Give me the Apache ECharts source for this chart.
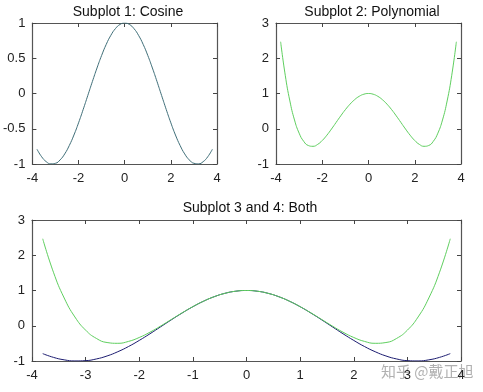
<!DOCTYPE html>
<html><head><meta charset="utf-8">
<script src="https://cdn.jsdelivr.net/npm/echarts@6/dist/echarts.min.js"></script>
<style>html,body{margin:0;padding:0;background:#fff}#c{width:483px;height:392px}</style>
</head><body><div id="c"></div>
<script>
const xs = [-3.8,-3.6,-3.4,-3.2,-3.0,-2.8,-2.6,-2.4,-2.2,-2.0,-1.8,-1.6,-1.4,-1.2,-1.0,-0.8,-0.6,-0.4,-0.2,0,
  0.2,0.4,0.6,0.8,1.0,1.2,1.4,1.6,1.8,2.0,2.2,2.4,2.6,2.8,3.0,3.2,3.4,3.6,3.8];
const cosVals = [-0.791,-0.897,-0.967,-0.998,-0.990,-0.942,-0.857,-0.737,-0.589,-0.416,-0.227,-0.029,0.170,0.362,0.540,0.697,0.825,0.921,0.980,1,
  0.980,0.921,0.825,0.697,0.540,0.362,0.170,-0.029,-0.227,-0.416,-0.589,-0.737,-0.857,-0.942,-0.990,-0.998,-0.967,-0.897,-0.791];
const polyVals = [2.468,1.518,0.788,0.249,-0.125,-0.359,-0.476,-0.498,-0.444,-0.333,-0.183,-0.007,0.180,0.366,0.542,0.697,0.825,0.921,0.980,1,
  0.980,0.921,0.825,0.697,0.542,0.366,0.180,-0.007,-0.183,-0.333,-0.444,-0.498,-0.476,-0.359,-0.125,0.249,0.788,1.518,2.468];
const titles = ['Subplot 1: Cosine','Subplot 2: Polynomial','Subplot 3 and 4: Both'];
const watermark = '知乎 @戴正旭';

const pair = (ys) => xs.map((x,i)=>[x,ys[i]]);
const font = 'Liberation Sans, Arial, sans-serif';
const axisLine = {show:true, onZero:false, lineStyle:{color:'#555', width:1.2}};
const tickIn = {show:true, inside:true, length:4, lineStyle:{color:'#444'}};
const lbl = {color:'#222', fontSize:13, fontFamily:font};

function xAxes(gi, interval){
  return [
    {type:'value', gridIndex:gi, min:-4, max:4, interval:interval, position:'bottom',
     axisLine:axisLine, axisTick:tickIn, splitLine:{show:false}, axisLabel:Object.assign({margin:8},lbl)},
    {type:'value', gridIndex:gi, min:-4, max:4, interval:interval, position:'top',
     axisLine:axisLine, axisTick:tickIn, splitLine:{show:false}, axisLabel:{show:false}}
  ];
}
function yAxes(gi, min, max, interval){
  return [
    {type:'value', gridIndex:gi, min:min, max:max, interval:interval, position:'left',
     axisLine:axisLine, axisTick:tickIn, splitLine:{show:false}, axisLabel:Object.assign({margin:7},lbl)},
    {type:'value', gridIndex:gi, min:min, max:max, interval:interval, position:'right',
     axisLine:axisLine, axisTick:tickIn, splitLine:{show:false}, axisLabel:{show:false}}
  ];
}
const chart = echarts.init(document.getElementById('c'), null, {renderer:'canvas'});
const green = '#5fcf5f';
const tstyle = {fontSize:14, fontWeight:'normal', color:'#111', fontFamily:font};
chart.setOption({
  animation:false,
  backgroundColor:'#fff',
  title:[
    {text:titles[0], left:123, top:0, textAlign:'center', textStyle:tstyle},
    {text:titles[1], left:367, top:0, textAlign:'center', textStyle:tstyle},
    {text:titles[2], left:245, top:196, textAlign:'center', textStyle:tstyle}
  ],
  grid:[
    {left:32, top:23, width:185, height:141},
    {left:276, top:23, width:185, height:141},
    {left:32, top:220, width:429, height:141}
  ],
  xAxis:[].concat(xAxes(0,2), xAxes(1,2), xAxes(2,1)),
  yAxis:[].concat(yAxes(0,-1,1,0.5), yAxes(1,-1,3,1), yAxes(2,-1,3,1)),
  series:[
    {type:'line', xAxisIndex:0, yAxisIndex:0, data:pair(cosVals), smooth:true, showSymbol:false, lineStyle:{color:'#3f6e78', width:1}},
    {type:'line', xAxisIndex:2, yAxisIndex:2, data:pair(polyVals), smooth:true, showSymbol:false, lineStyle:{color:green, width:1}},
    {type:'line', xAxisIndex:4, yAxisIndex:4, data:pair(cosVals), smooth:true, showSymbol:false, lineStyle:{color:'#1c1c70', width:1}},
    {type:'line', xAxisIndex:4, yAxisIndex:4, data:pair(polyVals), smooth:true, showSymbol:false, lineStyle:{color:green, width:1}}
  ],
  graphic:[
    {type:'text', left:381, top:364, style:{text:watermark, fill:'rgba(150,150,150,0.75)', font:'15px "Noto Sans CJK SC", sans-serif'}}
  ]
});
</script></body></html>
